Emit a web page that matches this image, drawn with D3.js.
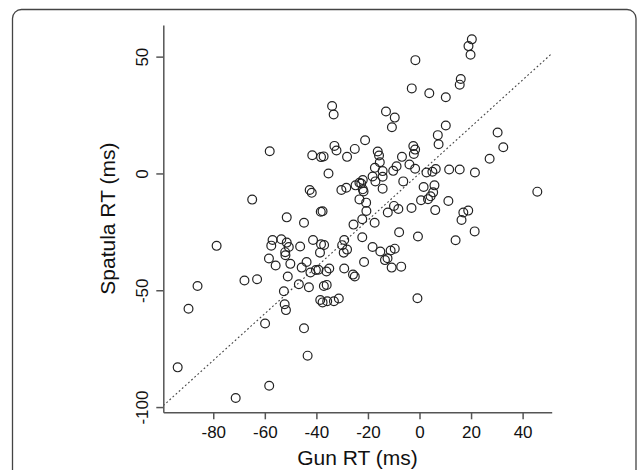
<!DOCTYPE html>
<html>
<head>
<meta charset="utf-8">
<script src="https://cdn.jsdelivr.net/npm/d3@7"></script>
<style>
  body { margin: 0; background: #fff; }
  svg { display: block; font-family: "Liberation Sans", Arial, sans-serif; }
</style>
</head>
<body>
<div id="chart"></div>
<script>
// Gun RT vs Spatula RT (ms)
var gunRT = [
  20.3, 19.0, 19.8, -1.6, 16.0, 15.6, -3.0, 3.8, 10.2, -33.9,
  -33.3, -13.0, -9.6, -10.7, 10.2, 30.3, 7.1, 7.4, 32.5, -21.1,
  -58.1, -33.0, -32.2, -25.1, -16.2, -15.7, -15.4, -41.6, -38.2, -37.2,
  -28.1, -35.3, -2.4, -1.7, -2.2, -6.8, 27.2, -3.9, -1.7, -8.9,
  -10.2, -17.3, -18.2, -17.1, -14.3, -14.3, -14.3, -6.3, 2.7, 5.0,
  6.3, 11.5, 15.6, 21.5, 5.8, 1.6, 5.3, 3.3, 0.6, 11.2,
  6.1, 17.0, 18.9, 16.3, 21.4, 14.0, -0.6, -0.8, 45.7, -3.1,
  -9.9, -8.2, -12.3, -7.9, -22.6, -22.0, -23.3, -22.0, -20.7, -23.3,
  -20.6, -22.2, -17.4, -25.6, -22.2, -28.4, -30.3, -24.8, -42.6, -41.8,
  -64.9, -38.3, -37.6, -51.5, -44.8, -57.0, -57.5, -53.6, -51.5, -50.7,
  -52.1, -52.0, -46.3, -41.3, -38.2, -37.0, -38.6, -29.2, -30.0, -28.1,
  -29.4, -18.2, -15.2, -11.2, -9.6, -13.4, -12.4, -21.5, -10.8, -7.1,
  -58.4, -55.8, -50.1, -45.7, -43.8, -42.3, -40.2, -35.0, -36.1, -29.2,
  -25.8, -25.1, -78.7, -67.9, -63.0, -86.1, -51.1, -46.8, -42.9, -37.1,
  -36.0, -52.6, -38.5, -37.6, -35.8, -33.2, -31.3, -52.3, -51.8, -89.6,
  -59.9, -44.8, -43.4, -93.8, -58.3, -71.3, -39.2, -21.7, 4.3
];
var spatulaRT = [
  57.4, 54.5, 50.8, 48.5, 40.4, 38.0, 36.4, 34.3, 32.6, 28.9,
  25.2, 26.5, 23.9, 19.8, 20.5, 17.5, 16.4, 12.5, 11.2, 14.2,
  9.5, 11.8, 9.8, 10.5, 9.4, 7.7, 4.8, 7.8, 7.0, 7.3,
  7.1, 0.0, 11.7, 10.2, 8.3, 7.1, 6.3, 3.8, 2.0, 3.1,
  1.1, 2.4, -1.3, -3.4, -1.4, 1.0, -6.5, -3.4, 0.4, 0.7,
  1.9, 1.7, 1.7, 0.4, -5.1, -5.8, -8.1, -11.0, -11.5, -11.8,
  -15.7, -16.7, -15.9, -19.9, -24.8, -28.6, -27.0, -53.4, -7.8, -14.8,
  -13.9, -15.2, -16.7, -25.2, -4.3, -2.8, -4.0, -6.8, -12.5, -11.1,
  -16.1, -19.6, -21.1, -21.9, -27.3, -6.1, -7.1, -5.1, -7.1, -8.3,
  -11.2, -16.4, -16.2, -18.8, -21.1, -28.5, -30.9, -28.2, -29.6, -31.5,
  -33.7, -35.0, -31.3, -28.5, -30.3, -30.6, -33.9, -28.5, -30.7, -32.6,
  -33.9, -31.5, -33.4, -33.0, -32.2, -37.1, -36.3, -37.9, -40.3, -39.9,
  -36.4, -39.4, -38.7, -40.3, -37.9, -42.4, -41.3, -40.7, -42.0, -40.7,
  -43.3, -44.1, -31.0, -45.8, -45.3, -48.2, -44.1, -47.4, -48.7, -48.2,
  -47.7, -50.4, -54.2, -55.2, -54.7, -54.7, -53.5, -56.0, -58.5, -57.9,
  -64.2, -66.3, -78.0, -83.0, -90.9, -96.1, -41.2, -7.7, -9.8
];
var xTicks = [-80, -60, -40, -20, 0, 20, 40];
var yTicks = [-100, -50, 0, 50];
var xLabel = 'Gun RT (ms)';
var yLabel = 'Spatula RT (ms)';

var width = 637, height = 470;
var plot = { left: 163.3, right: 551.7, top: 25, bottom: 412.3 };

// R style: pad the data range by 4% on each side
function padded(vals) {
  var ext = d3.extent(vals);
  var d = (ext[1] - ext[0]) * 0.04;
  return [ext[0] - d, ext[1] + d];
}

// plain hyphen for negatives, like R
function fmt(d) { return String(d); }

var x = d3.scaleLinear().domain(padded(gunRT)).range([plot.left, plot.right]);
var y = d3.scaleLinear().domain(padded(spatulaRT)).range([plot.bottom, plot.top]);

var svg = d3.select('#chart').append('svg')
  .attr('width', width)
  .attr('height', height);

// rounded frame around the figure
svg.append('rect')
  .attr('x', 12.5).attr('y', 9.5)
  .attr('width', 623.5).attr('height', 500)
  .attr('rx', 9).attr('ry', 9)
  .attr('fill', 'none')
  .attr('stroke', '#444')
  .attr('stroke-width', 1.3);

svg.append('clipPath').attr('id', 'plotclip')
  .append('rect')
  .attr('x', plot.left).attr('y', plot.top)
  .attr('width', plot.right - plot.left)
  .attr('height', plot.bottom - plot.top);

// identity line y = x
svg.append('line')
  .attr('clip-path', 'url(#plotclip)')
  .attr('x1', x(x.domain()[0])).attr('y1', y(x.domain()[0]))
  .attr('x2', x(x.domain()[1])).attr('y2', y(x.domain()[1]))
  .attr('stroke', '#444')
  .attr('stroke-width', 1.1)
  .attr('stroke-dasharray', '1.8,2.4');

var points = d3.zip(gunRT, spatulaRT);
svg.append('g').selectAll('circle')
  .data(points)
  .enter().append('circle')
  .attr('cx', function (d) { return x(d[0]); })
  .attr('cy', function (d) { return y(d[1]); })
  .attr('r', 4.4)
  .attr('fill', 'none')
  .attr('stroke', '#222')
  .attr('stroke-width', 1.2);

// axes
var xAxis = svg.append('g')
  .attr('transform', 'translate(0,' + plot.bottom + ')')
  .call(d3.axisBottom(x).tickValues(xTicks).tickSize(7).tickSizeOuter(0).tickPadding(7).tickFormat(fmt));

var yAxis = svg.append('g')
  .attr('transform', 'translate(' + plot.left + ',0)')
  .call(d3.axisLeft(y).tickValues(yTicks).tickSize(7).tickSizeOuter(0).tickFormat(fmt));

[xAxis, yAxis].forEach(function (g) {
  g.select('.domain').attr('stroke', '#555').attr('stroke-width', 1.5);
  g.selectAll('.tick line').attr('stroke', '#555').attr('stroke-width', 1.5);
  g.selectAll('.tick text')
    .attr('fill', '#111')
    .style('font-size', '17px')
    .style('font-family', '"Liberation Sans", Arial, sans-serif');
});

// R draws y tick labels parallel to the axis
yAxis.selectAll('.tick text')
  .attr('transform', 'rotate(-90)')
  .attr('x', 0)
  .attr('y', -15)
  .attr('dy', 0)
  .attr('text-anchor', 'middle');

svg.append('text')
  .attr('x', (plot.left + plot.right) / 2)
  .attr('y', 465)
  .attr('text-anchor', 'middle')
  .attr('fill', '#111')
  .style('font-size', '21px')
  .text(xLabel);

svg.append('text')
  .attr('transform', 'translate(114.5,' + ((plot.top + plot.bottom) / 2) + ') rotate(-90)')
  .attr('text-anchor', 'middle')
  .attr('fill', '#111')
  .style('font-size', '21px')
  .text(yLabel);
</script>
</body>
</html>
